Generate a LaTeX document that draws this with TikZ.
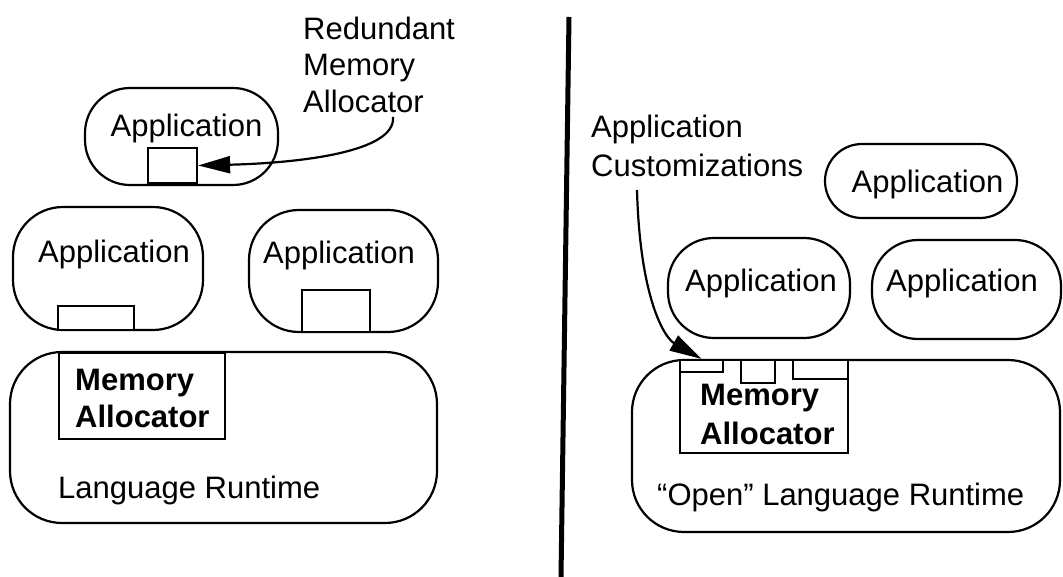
\documentclass[tikz,border=0pt]{standalone}
\usepackage{fontspec}
\setmainfont{Liberation Sans}
\usetikzlibrary{arrows.meta}
\begin{document}
\begin{tikzpicture}[x=1pt,y=-1pt,
  outline/.style={draw, line width=2.2pt, inner sep=0pt},
  pill/.style={outline, rounded corners=#1},
  pill/.default=46pt,
  stub/.style={outline, fill=white, sharp corners},
  lbl/.style={font=\fontsize{31}{36.5}\selectfont, inner sep=0pt},
  blbl/.style={lbl, font=\fontsize{31}{37}\selectfont\bfseries, align=left},
  connector/.style={line width=2.2pt, -{Triangle[length=32pt,width=17pt]}}]
\useasboundingbox (0,0) rectangle (1063,577);

% ---------- left: conventional runtime ----------
\node[pill=45pt, minimum width=193pt, minimum height=97pt] (appA) at (181.5,136.5) {};
\node[pill=50pt, minimum width=190pt, minimum height=123pt] (appB) at (108,268.5) {};
\node[pill=50pt, minimum width=189pt, minimum height=122pt] (appC) at (343.5,271) {};
\node[pill=52pt, minimum width=427pt, minimum height=171pt] (rtL) at (223.5,437.5) {};

\node[stub, minimum width=49pt, minimum height=35pt] (boxA) at (172.5,165.5) {};
\node[stub, minimum width=76pt, minimum height=24pt] (boxB) at (96,318) {};
\node[stub, minimum width=68pt, minimum height=42pt] (boxC) at (336,311) {};
\node[stub, minimum width=166pt, minimum height=86pt] (memL) at (142,396) {};

\node[lbl, anchor=base] (tA) at (186.5,137) {Application};
\node[lbl, anchor=base] (tB) at (114,263) {Application};
\node[lbl, anchor=base] (tC) at (339,264) {Application};
\node[blbl, anchor=base west] (mL1) at (75,390) {Memory};
\node[blbl, anchor=base west] (mL2) at (75,427) {Allocator};
\node[lbl, anchor=base west] (rtLtext) at (58,498) {Language Runtime};

\node[lbl, anchor=base west] (red1) at (303,40) {Redundant};
\node[lbl, anchor=base west] (red2) at (303,76) {Memory};
\node[lbl, anchor=base west] (red3) at (303,113) {Allocator};
\coordinate (redfrom) at (393,117);
\draw[connector] (redfrom) .. controls (396,152) and (300,163) .. (boxA.east);

% ---------- divider ----------
\coordinate (divtop) at (569,17);
\coordinate (divbot) at (561,577);
\draw[line width=5pt] (divtop) -- (divbot);

% ---------- right: open runtime ----------
\node[pill=37pt, minimum width=192pt, minimum height=74pt] (appD) at (921,181) {};
\node[pill=46pt, minimum width=182pt, minimum height=100pt] (appE) at (759,288) {};
\node[pill=46pt, minimum width=189pt, minimum height=99pt] (appF) at (966.5,289.5) {};
\node[pill=52pt, minimum width=428pt, minimum height=172pt] (rtR) at (846,446) {};

\node[stub, minimum width=168pt, minimum height=93pt] (memR) at (764,406.5) {};
\node[stub, minimum width=43pt, minimum height=12pt] (tab1) at (701.5,366) {};
\node[stub, minimum width=34pt, minimum height=23pt] (tab2) at (758,371.5) {};
\node[stub, minimum width=55pt, minimum height=19pt] (tab3) at (820.5,369.5) {};

\node[lbl, anchor=base] (tD) at (927.5,193) {Application};
\node[lbl, anchor=base] (tE) at (761,292) {Application};
\node[lbl, anchor=base] (tF) at (962,292) {Application};
\node[blbl, anchor=base west] (mR1) at (700,405) {Memory};
\node[blbl, anchor=base west] (mR2) at (700,444) {Allocator};
\node[lbl, anchor=base west] (rtRtext) at (657,505) {“Open” Language Runtime};

\node[lbl, anchor=base west] (cus1) at (591,138) {Application};
\node[lbl, anchor=base west] (cus2) at (591,177) {Customizations};
\coordinate (cusfrom) at (637,190);
\draw[connector] (cusfrom) .. controls (640,300) and (665,338) .. (tab1.north);
\end{tikzpicture}
\end{document}
